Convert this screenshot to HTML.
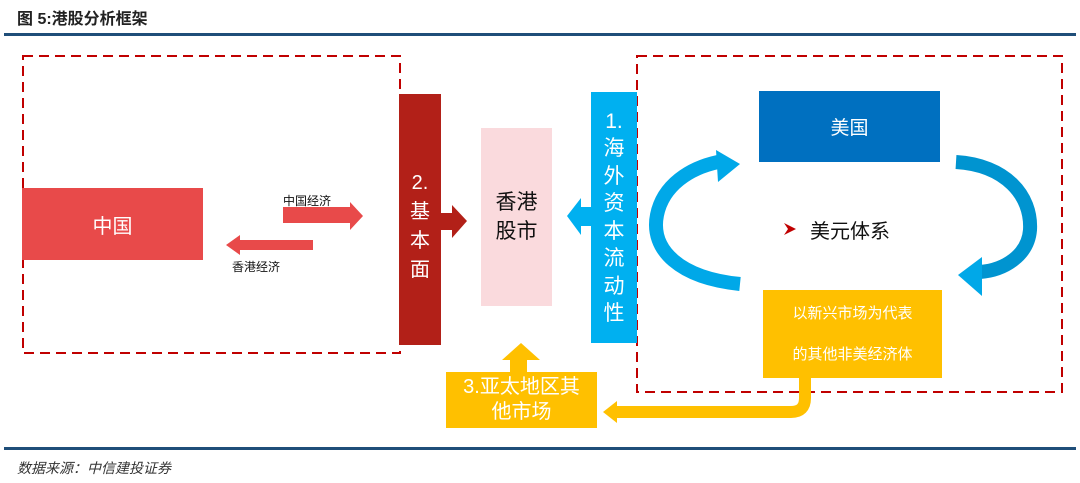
<!DOCTYPE html>
<html><head><meta charset="utf-8"><style>
body{margin:0;width:1080px;height:483px;background:#fff;position:relative;overflow:hidden;font-family:"Liberation Sans","Noto Sans CJK SC",sans-serif}
.a{position:absolute}
.c{display:flex;align-items:center;justify-content:center;text-align:center}
</style></head><body>
<div class="a" style="left:17px;top:5px;font-size:16px;font-weight:bold;color:#222">图 5:港股分析框架</div>
<div class="a" style="left:4px;top:33px;width:1072px;height:3px;background:#1f4e79"></div>
<svg class="a" style="left:0;top:0" width="1080" height="483">
<rect x="23" y="56" width="377" height="297" fill="none" stroke="#c00000" stroke-width="2" stroke-dasharray="10,6"/>
<rect x="637" y="56" width="425" height="336" fill="none" stroke="#c00000" stroke-width="2" stroke-dasharray="10,6"/>
<polygon points="283,207 350,207 350,202 363,216 350,230 350,223 283,223" fill="#e84a4a"/>
<polygon points="313,240 240,240 240,235 226,245 240,255 240,250 313,250" fill="#e84a4a"/>
<polygon points="441,213 452,213 452,205 467,221 452,238 452,230 441,230" fill="#b22018"/>
<polygon points="591,207 581,207 581,198 567,216 581,235 581,226 591,226" fill="#00b0f0"/>
<polygon points="510,372 510,360 502,360 521,343 540,360 527,360 527,372" fill="#ffc000"/>
<path d="M805,378 L805,398 Q805,412 791,412 L615,412" fill="none" stroke="#ffc000" stroke-width="12"/>
<polygon points="617,401 603,412 617,423" fill="#ffc000"/>
<path d="M740,284 C680,278 650,250 657,215 C663,185 690,168 718,162" fill="none" stroke="#00a8e8" stroke-width="14"/>
<polygon points="716,150 740,164 718,182" fill="#00a8e8"/>
<path d="M956,162 C1005,165 1032,195 1030,230 C1028,255 1005,270 980,272" fill="none" stroke="#0094d0" stroke-width="14"/>
<polygon points="982,257 958,275 982,296" fill="#00a8e8"/>
<polygon points="784,223 796,229 784,235 788,229" fill="#c00000"/>
</svg>
<div class="a c" style="left:22px;top:188px;width:181px;height:72px;background:#e84a4a;color:#fff;font-size:20px">中国</div>
<div class="a" style="left:283px;top:192px;font-size:12px;color:#111">中国经济</div>
<div class="a" style="left:232px;top:258px;font-size:12px;color:#111">香港经济</div>
<div class="a c" style="left:399px;top:94px;width:42px;height:251px;background:#b22018;color:#fff;font-size:20px;line-height:29px;padding-top:14px;box-sizing:border-box">2.<br>基<br>本<br>面</div>
<div class="a c" style="left:481px;top:128px;width:71px;height:178px;background:#fadadd;color:#111;font-size:21px;line-height:29px">香港<br>股市</div>
<div class="a c" style="left:591px;top:92px;width:46px;height:251px;background:#00b0f0;color:#fff;font-size:21px;line-height:27.5px">1.<br>海<br>外<br>资<br>本<br>流<br>动<br>性</div>
<div class="a c" style="left:759px;top:91px;width:181px;height:71px;background:#0070c0;color:#fff;font-size:19px">美国</div>
<div class="a" style="left:810px;top:215px;font-size:20px;color:#111">美元体系</div>
<div class="a c" style="left:763px;top:290px;width:179px;height:88px;background:#ffc000;color:#fff;font-size:15px;line-height:41px">以新兴市场为代表<br>的其他非美经济体</div>
<div class="a c" style="left:446px;top:372px;width:151px;height:56px;background:#ffc000;color:#fff;font-size:20px;line-height:25px">3.亚太地区其<br>他市场</div>
<div class="a" style="left:4px;top:447px;width:1072px;height:3px;background:#1f4e79"></div>
<div class="a" style="left:17px;top:458px;font-size:14px;font-style:italic;color:#333">数据来源：中信建投证券</div>
</body></html>
